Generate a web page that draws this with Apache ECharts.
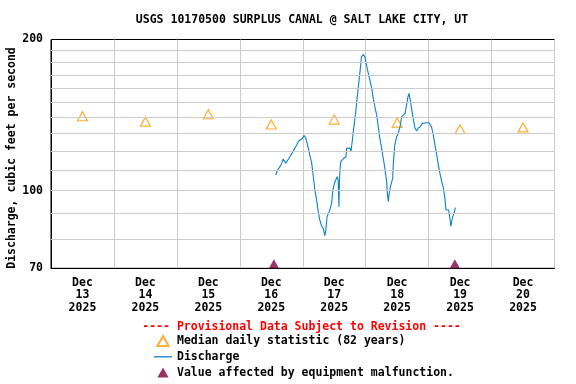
<!DOCTYPE html>
<html>
<head>
<meta charset="utf-8">
<script src="https://cdn.jsdelivr.net/npm/echarts@6/dist/echarts.min.js"></script>
<style>
html,body{margin:0;padding:0;background:#fff;}
#chart{width:576px;height:384px;}
</style>
</head>
<body>
<div id="chart"></div>
<script>
// ---- data ----
const titleText = 'USGS 10170500 SURPLUS CANAL @ SALT LAKE CITY, UT';
const yAxisTitle = 'Discharge, cubic feet per second';
const provisionalText = '---- Provisional Data Subject to Revision ----';
const categories = ['Dec\n13\n2025','Dec\n14\n2025','Dec\n15\n2025','Dec\n16\n2025','Dec\n17\n2025','Dec\n18\n2025','Dec\n19\n2025','Dec\n20\n2025'];
const medianValues = [140.6, 137.2, 141.9, 135.4, 138.5, 136.6, 132.5, 133.6];
// hours since Dec 13 00:00
const dischargeHours = [85.7,86.4,87.3,87.9,88.5,88.9,89.6,90.2,90.7,91.5,92.3,93.3,94.0,94.6,95.3,95.9,96.5,97.2,97.8,98.4,99.4,100.1,100.6,101.3,101.9,102.5,103.2,103.8,104.4,104.8,105.3,106.1,107.0,107.5,108.1,108.6,109.1,109.5,109.8,110.0,110.2,110.5,111.2,111.7,112.5,112.7,113.3,114.0,114.4,115.0,115.2,115.6,116.2,116.8,117.4,118.1,118.4,119.1,119.7,120.3,121.0,121.6,122.3,122.9,123.5,124.2,124.8,125.4,126.1,126.7,127.3,128.0,128.2,128.6,129.0,129.6,130.3,130.5,131.1,131.8,132.4,133.1,133.7,134.3,135.0,135.6,136.0,136.5,137.0,137.5,138.1,138.8,139.4,140.0,140.8,141.6,142.3,143.2,144.1,145.1,145.8,146.4,147.1,147.7,148.3,149.0,149.6,150.2,150.6,151.1,151.6,152.0,152.5,153.0,153.7,154.2];
const dischargeValues = [107.4,109.9,111.6,113.0,115.5,115.1,113.4,114.2,116.0,117.7,119.6,122.3,124.2,125.7,126.1,127.1,128.8,127.1,123.3,119.6,113.4,105.8,100.3,95.8,90.8,87.4,85.0,84.2,81.3,83.5,88.8,90.8,94.4,100.3,103.4,105.0,106.6,105.0,92.9,105.0,109.9,114.2,115.1,116.0,116.8,121.4,122.3,121.6,119.6,127.1,130.0,135.1,143.6,153.8,164.7,177.8,184.7,186.7,184.7,177.8,171.2,166.0,159.8,152.7,146.9,141.4,134.0,127.1,121.4,116.0,110.8,104.2,99.5,95.1,99.0,102.6,105.8,112.5,123.3,128.0,130.0,134.0,140.3,140.9,142.5,148.0,152.7,156.2,151.4,145.8,139.3,133.1,131.4,133.1,134.0,136.1,136.7,136.5,136.5,134.0,129.0,123.3,117.7,112.5,108.3,104.2,101.1,96.6,91.5,90.8,91.5,88.8,84.8,88.1,90.2,92.5];
const malfunctionHours = [85, 154];
const malfunctionValue = 70;
const yLabelValues = [70, 100, 200];
const yGridValues = [80, 90, 100, 110, 120, 130, 140, 150, 160, 170, 180, 190];
const xMinHours = 0, xMaxHours = 192, xGridHours = 24;
const yMin = 70, yMax = 200;

// ---- chart ----
const FONT = '"DejaVu Sans Mono", "Liberation Mono", monospace';
const FS = 11.5;
const TRI = 'path://M5,0 L10,9 L0,9 Z';
const chart = echarts.init(document.getElementById('chart'), null, {renderer: 'canvas'});

const gridMarkData = yGridValues.map(v => ({yAxis: v, lineStyle: {color: '#cccccc', width: 1, type: 'solid'}, label: {show: false}}));
const labelMarkData = yLabelValues.map(v => ({yAxis: v, lineStyle: {color: 'rgba(0,0,0,0)', width: 0}, label: {show: true, position: 'start', formatter: String(v), distance: 8, padding: [3, 0, 0, 0], color: '#000', fontFamily: FONT, fontWeight: 'bold', fontSize: FS}}));

chart.setOption({
  animation: false,
  backgroundColor: '#ffffff',
  grid: {left: 51, right: 21.5, top: 39.5, bottom: 115.7, show: true, borderColor: '#000', borderWidth: 1, backgroundColor: 'transparent'},
  graphic: [
    {type: 'text', x: 302, y: 20, style: {text: titleText, align: 'center', verticalAlign: 'middle', font: 'bold ' + FS + 'px ' + FONT, fill: '#000'}},
    {type: 'text', x: 12, y: 158, rotation: Math.PI / 2, style: {text: yAxisTitle, align: 'center', verticalAlign: 'middle', font: 'bold ' + FS + 'px ' + FONT, fill: '#000'}},
    {type: 'text', x: 301.5, y: 327, style: {text: provisionalText, align: 'center', verticalAlign: 'middle', font: 'bold ' + FS + 'px ' + FONT, fill: '#ff0000'}}
  ],
  legend: {
    orient: 'vertical', left: 154, top: 335, padding: 0, itemWidth: 18, itemHeight: 10, itemGap: 3.8,
    symbolKeepAspect: true,
    textStyle: {color: '#000', fontFamily: FONT, fontWeight: 'bold', fontSize: FS, lineHeight: 12},
    data: [
      {name: 'Median daily statistic (82 years)', icon: TRI},
      {name: 'Discharge', icon: 'path://M0,0 H18 V1.3 H0 Z'},
      {name: 'Value affected by equipment malfunction.', icon: TRI}
    ]
  },
  xAxis: [
    {
      type: 'category', data: categories, boundaryGap: true, position: 'bottom',
      axisLine: {show: true, lineStyle: {color: '#000'}}, axisTick: {show: false}, splitLine: {show: false},
      axisLabel: {margin: 8, lineHeight: 12.5, color: '#000', fontFamily: FONT, fontWeight: 'bold', fontSize: FS, interval: 0}
    },
    {
      type: 'value', min: xMinHours, max: xMaxHours, interval: xGridHours, position: 'bottom',
      axisLine: {show: false}, axisTick: {show: false}, axisLabel: {show: false},
      splitLine: {show: true, lineStyle: {color: '#cccccc', width: 1}}
    }
  ],
  yAxis: {
    type: 'log', logBase: 10, min: yMin, max: yMax,
    axisLine: {show: true, lineStyle: {color: '#000'}}, axisTick: {show: false},
    axisLabel: {show: false}, splitLine: {show: false}
  },
  series: [
    {
      name: 'gridlines', type: 'line', xAxisIndex: 1, data: [], z: 1, silent: true,
      markLine: {silent: true, symbol: 'none', animation: false, data: gridMarkData.concat(labelMarkData)}
    },
    {
      name: 'Median daily statistic (82 years)', type: 'scatter', xAxisIndex: 0, z: 3,
      data: medianValues, symbol: 'triangle', symbolSize: [10, 9],
      itemStyle: {color: 'rgba(255,255,255,0)', borderColor: '#ff9900', borderWidth: 1.2}
    },
    {
      name: 'Discharge', type: 'line', xAxisIndex: 1, z: 4,
      data: dischargeHours.map((h, i) => [h, dischargeValues[i]]),
      symbol: 'none', showSymbol: false, lineStyle: {color: '#0b80cf', width: 1.1}, itemStyle: {color: '#0b80cf'}
    },
    {
      name: 'Value affected by equipment malfunction.', type: 'scatter', xAxisIndex: 1, z: 5, clip: false,
      data: malfunctionHours.map(h => [h, malfunctionValue]), symbol: 'triangle', symbolSize: [10, 9], symbolOffset: [0, -4.5],
      itemStyle: {color: '#800040'}
    }
  ]
});
</script>
</body>
</html>
